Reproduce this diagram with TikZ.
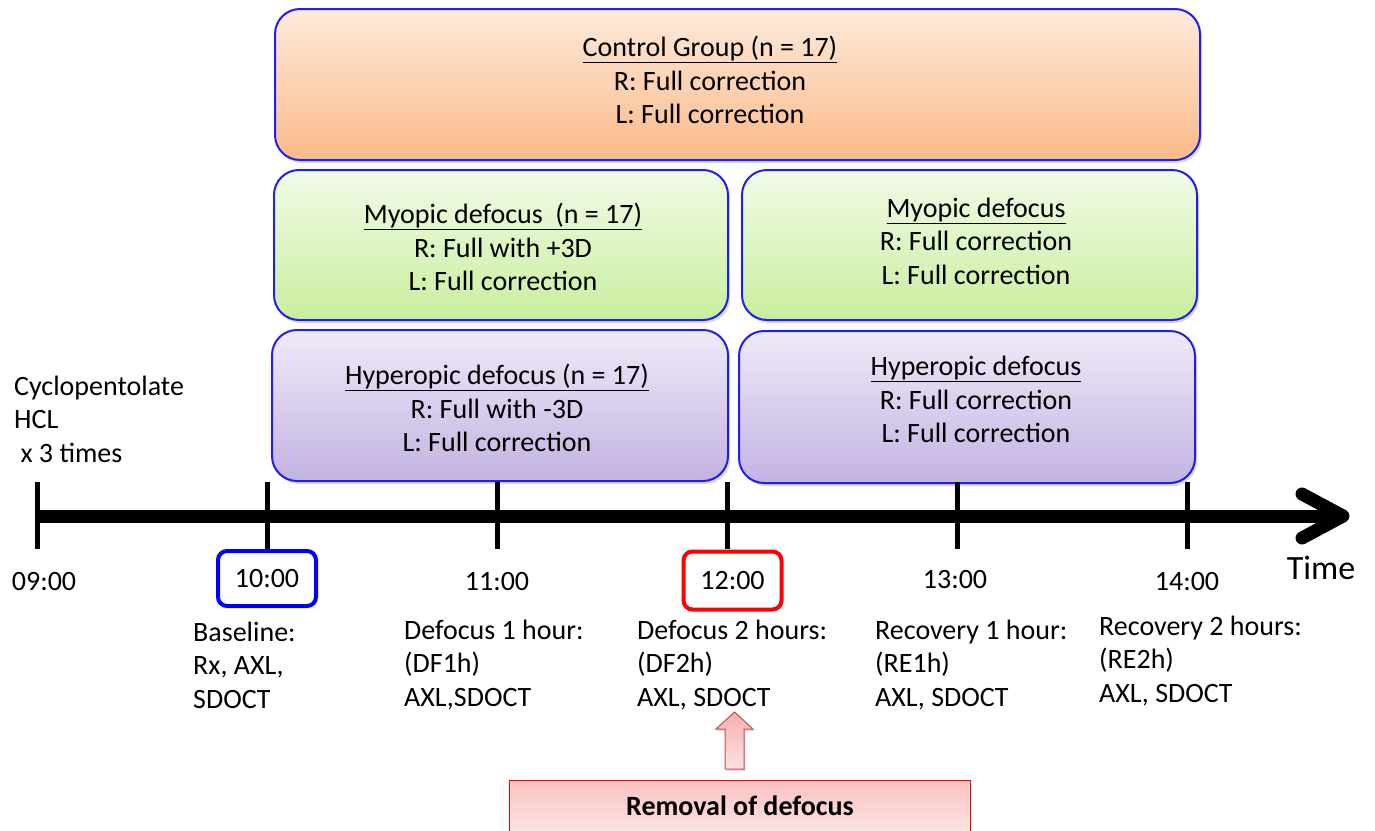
\documentclass[tikz,border=0pt]{standalone}
\usepackage{fontspec}
\setmainfont{Carlito}
\usetikzlibrary{shadows}
\definecolor{bbord}{RGB}{30,30,240}
\definecolor{ctrltop}{HTML}{FDEADB}
\definecolor{ctrlbot}{HTML}{FBBA88}
\definecolor{greentop}{HTML}{F2FBE8}
\definecolor{greenbot}{HTML}{C9EE9D}
\definecolor{purptop}{HTML}{EFEAF8}
\definecolor{purpbot}{HTML}{C3B3E2}
\definecolor{pinktop}{HTML}{FBC2C2}
\definecolor{pinkbot}{HTML}{FCE2E2}
\definecolor{arrtop}{HTML}{F7B0B0}
\definecolor{arrbot}{HTML}{FDE0E0}
\definecolor{arrbord}{HTML}{C0504D}
\begin{document}
\begin{tikzpicture}[x=1pt,y=-1pt,
  every node/.style={font=\fontsize{28}{33.5}\selectfont, inner sep=0pt},
  groupbox/.style={draw=bbord, line width=2pt, rounded corners=25pt,
    drop shadow={opacity=0.3, shadow xshift=2pt, shadow yshift=-3pt}},
  ctrlbox/.style={groupbox, top color=ctrltop, bottom color=ctrlbot},
  greenbox/.style={groupbox, top color=greentop, bottom color=greenbot},
  purpbox/.style={groupbox, top color=purptop, bottom color=purpbot},
  boxtext/.style={align=center},
  timebox/.style={line width=4pt, rounded corners=9pt, minimum width=98pt, minimum height=55pt},
  steplabel/.style={align=left, anchor=west},
  axisline/.style={line width=13pt},
  tickline/.style={line width=5pt},
  blockarrow/.style={draw=arrbord, line width=1pt, top color=arrtop, bottom color=arrbot,
    drop shadow={opacity=0.25, shadow xshift=1.5pt, shadow yshift=-2pt}}
]
\useasboundingbox (0,0) rectangle (1375,830);

% group boxes
\node[ctrlbox, minimum width=925pt, minimum height=151pt] (ctrl) at (737.5,84.5) {};
\node[boxtext] (ctrltxt) at (710,80) {\underline{Control Group (n = 17)}\\R: Full correction\\L: Full correction};

\node[greenbox, minimum width=454pt, minimum height=150pt] (myoL) at (501,245) {};
\node[boxtext] (myoLtxt) at (503,247) {\underline{Myopic defocus\ \ (n = 17)}\\R: Full with +3D\\L: Full correction};

\node[greenbox, minimum width=455pt, minimum height=150pt] (myoR) at (969.5,245) {};
\node[boxtext] (myoRtxt) at (976,241) {\underline{Myopic defocus}\\R: Full correction\\L: Full correction};

\node[purpbox, minimum width=456pt, minimum height=151pt] (hypL) at (500,405.5) {};
\node[boxtext] (hypLtxt) at (497,408) {\underline{Hyperopic defocus (n = 17)}\\R: Full with -3D\\L: Full correction};

\node[purpbox, minimum width=456pt, minimum height=152pt] (hypR) at (967,407) {};
\node[boxtext] (hypRtxt) at (976,399.5) {\underline{Hyperopic defocus}\\R: Full correction\\L: Full correction};

% premedication
\node[steplabel] (cyclo) at (14,419) {Cyclopentolate\\HCL\\\ x 3 times};

% timeline
\coordinate (t0) at (37,516);
\coordinate (tend) at (1338,516);
\draw[axisline] (t0) -- (tend);
\coordinate (hu) at (1302,494);
\coordinate (tip) at (1343,516);
\coordinate (hd) at (1302,538);
\draw[axisline, line cap=round, line join=round] (hu) -- (tip) -- (hd);

\foreach \i/\x in {0/37,1/267,2/497,3/727,4/957,5/1187}{
  \coordinate (k\i a) at (\x,482);
  \coordinate (k\i b) at (\x,549);
  \draw[tickline] (k\i a) -- (k\i b);
}

% time labels
\node (h9) at (44,582) {09:00};
\node[timebox, draw=blue] (h10) at (267,578.5) {10:00};
\node (h11) at (497,582) {11:00};
\node[timebox, draw=red, minimum height=58pt] (h12) at (732.5,580.5) {12:00};
\node (h13) at (955,580) {13:00};
\node (h14) at (1187,582) {14:00};
\node[font=\fontsize{34}{40}\selectfont] (time) at (1321,568) {Time};

% measurement labels
\node[steplabel] (m10) at (193,665) {Baseline:\\Rx, AXL,\\SDOCT};
\node[steplabel] (m11) at (404,665) {Defocus 1 hour:\\(DF1h)\\AXL,SDOCT};
\node[steplabel] (m12) at (637,665) {Defocus 2 hours:\\(DF2h)\\AXL, SDOCT};
\node[steplabel] (m13) at (875,665) {Recovery 1 hour:\\(RE1h)\\AXL, SDOCT};
\node[steplabel] (m14) at (1099,661) {Recovery 2 hours:\\(RE2h)\\AXL, SDOCT};

% removal of defocus
\node[draw=red, line width=1pt, top color=pinktop, bottom color=pinkbot,
      minimum width=461pt, minimum height=52pt,
      font=\fontsize{28}{33.5}\selectfont\bfseries] (removal) at (740,806) {Removal of defocus};
\path[blockarrow] (725,769) -- (725,729) -- (716,729) -- (734.5,712) -- (753,729)
  -- (744,729) -- (744,769) -- cycle;
\end{tikzpicture}
\end{document}
